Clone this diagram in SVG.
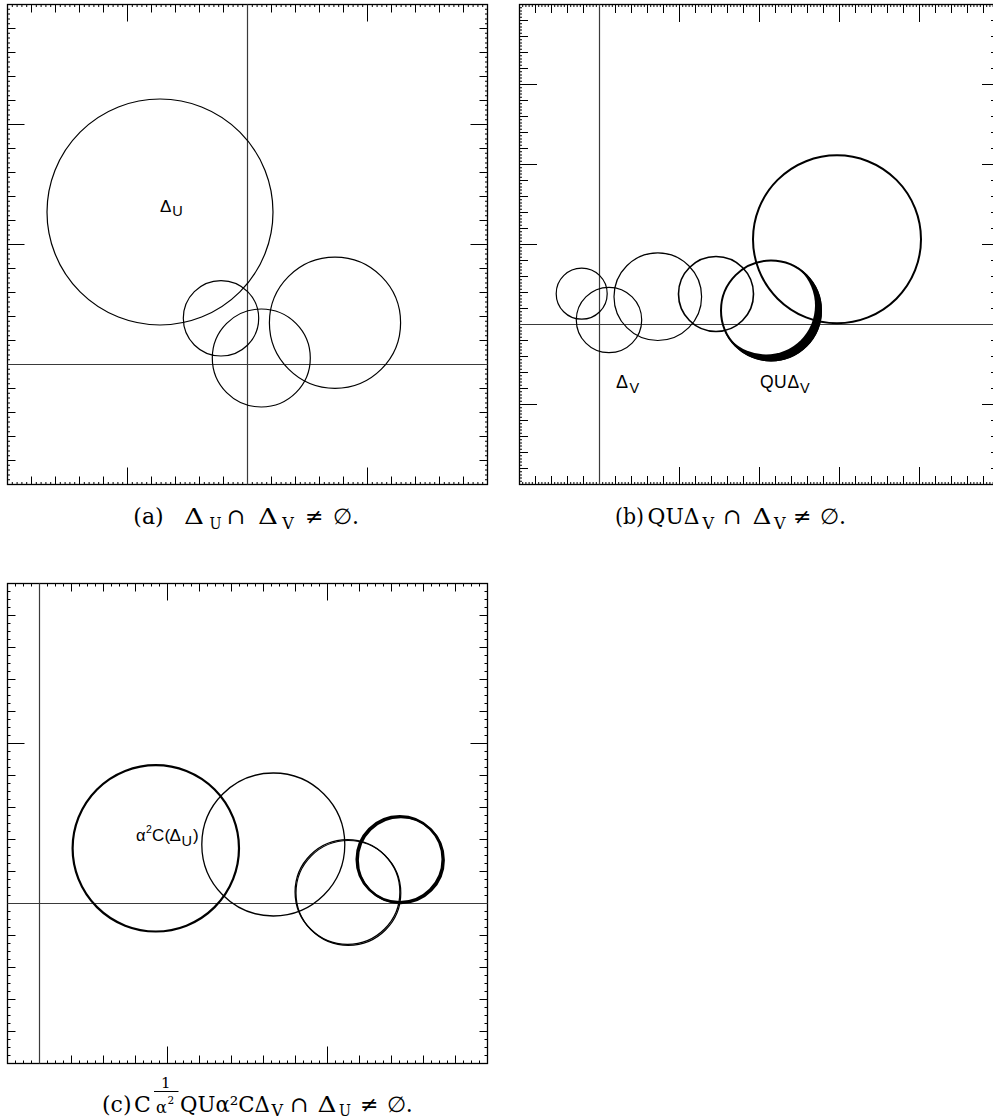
<svg xmlns="http://www.w3.org/2000/svg" width="993" height="1118" viewBox="0 0 993 1118">
<style>
.frame{fill:none;stroke:#000;stroke-width:1.3}
.tk{fill:none;stroke:#000}
.a0{stroke-width:2.5;stroke-dasharray:1 3.8}
.a1{stroke-width:8;stroke-dasharray:1 23}
.a2{stroke-width:17;stroke-dasharray:1 119}
.b0{stroke-width:2.5;stroke-dasharray:1 2.2}
.b1{stroke-width:8.5;stroke-dasharray:1 15}
.b2{stroke-width:17.5;stroke-dasharray:1 79}
.c0{stroke-width:3;stroke-dasharray:1 7}
.c1{stroke-width:8;stroke-dasharray:1 31}
.c2{stroke-width:17;stroke-dasharray:1 159}
.axis{stroke:#3a3a3a;stroke-width:1.2;fill:none}
.circ{fill:none;stroke:#000;stroke-width:1.2}
.circ2{fill:none;stroke:#000;stroke-width:2}
.lbl{font-family:"Liberation Sans",Arial,sans-serif;font-size:17px;fill:#000}
.lsub{font-size:14.5px}
.cap{font-family:"DejaVu Serif","Liberation Serif",serif;font-size:22px;fill:#000}
.csub{font-size:16px}
</style>
<defs>
<mask id="crescB" maskUnits="userSpaceOnUse" x="700" y="240" width="140" height="140">
<rect x="700" y="240" width="140" height="140" fill="#fff"/>
<circle cx="766" cy="305.5" r="49" fill="#000"/>
</mask>
</defs>

<!-- Panel (a) -->
<g id="panel-a">
<g id="a-frame">
<rect class="frame" x="7.5" y="4.5" width="480" height="480"/>
<line class="tk a0" x1="7" y1="5.75" x2="488" y2="5.75"/>
<line class="tk a1" x1="7" y1="8.5" x2="488" y2="8.5"/>
<line class="tk a2" x1="7" y1="13" x2="488" y2="13"/>
<line class="tk a0" x1="7" y1="483.25" x2="488" y2="483.25"/>
<line class="tk a1" x1="7" y1="480.5" x2="488" y2="480.5"/>
<line class="tk a2" x1="7" y1="476" x2="488" y2="476"/>
<line class="tk a0" x1="8.75" y1="4" x2="8.75" y2="485"/>
<line class="tk a1" x1="11.5" y1="4" x2="11.5" y2="485"/>
<line class="tk a2" x1="16" y1="4" x2="16" y2="485"/>
<line class="tk a0" x1="486.25" y1="4" x2="486.25" y2="485"/>
<line class="tk a1" x1="483.5" y1="4" x2="483.5" y2="485"/>
<line class="tk a2" x1="479" y1="4" x2="479" y2="485"/>
</g>
<g id="a-axes">
<line class="axis" x1="247.5" y1="4.5" x2="247.5" y2="484.5"/>
<line class="axis" x1="7.5" y1="364.5" x2="487.5" y2="364.5"/>
</g>
<g id="a-delta-u"><circle class="circ" cx="160" cy="212" r="113"/></g>
<g id="a-c2"><circle class="circ" cx="221" cy="318.3" r="37.7"/></g>
<g id="a-c3"><circle class="circ" cx="261.3" cy="358" r="49"/></g>
<g id="a-c4"><circle class="circ" cx="335" cy="322.8" r="65.6"/></g>
<g id="a-label"><text class="lbl"><tspan x="160" y="212.3">Δ</tspan><tspan class="lsub" x="172.3" y="216">U</tspan></text></g>
<g id="a-caption">
<text class="cap" x="133.3" y="523.5">(a)</text>
<text class="cap" x="184" y="523.5" textLength="20" lengthAdjust="spacingAndGlyphs">Δ</text>
<text class="cap csub" x="209.5" y="529" textLength="12" lengthAdjust="spacingAndGlyphs">U</text>
<text class="cap" x="226.7" y="523.5">∩</text>
<text class="cap" x="258" y="523.5" textLength="20" lengthAdjust="spacingAndGlyphs">Δ</text>
<text class="cap csub" x="282.3" y="528.5">V</text>
<text class="cap" x="305" y="523.5">≠</text>
<text class="cap" x="333" y="523.5">∅.</text>
</g>
</g>

<!-- Panel (b) -->
<g id="panel-b">
<g id="b-frame">
<rect class="frame" x="519.5" y="4.5" width="480" height="480"/>
<line class="tk b0" x1="519" y1="5.75" x2="1000" y2="5.75"/>
<line class="tk b1" x1="519" y1="8.75" x2="1000" y2="8.75"/>
<line class="tk b2" x1="519" y1="13.25" x2="1000" y2="13.25"/>
<line class="tk b0" x1="519" y1="483.25" x2="1000" y2="483.25"/>
<line class="tk b1" x1="519" y1="480.25" x2="1000" y2="480.25"/>
<line class="tk b2" x1="519" y1="475.75" x2="1000" y2="475.75"/>
<line class="tk b0" x1="520.75" y1="4" x2="520.75" y2="485"/>
<line class="tk b1" x1="523.75" y1="4" x2="523.75" y2="485"/>
<line class="tk b2" x1="528.25" y1="4" x2="528.25" y2="485"/>
<line class="tk b0" x1="998.25" y1="4" x2="998.25" y2="485"/>
<line class="tk b1" x1="995.25" y1="4" x2="995.25" y2="485"/>
<line class="tk b2" x1="990.75" y1="4" x2="990.75" y2="485"/>
</g>
<g id="b-axes">
<line class="axis" x1="599.5" y1="4.5" x2="599.5" y2="484.5"/>
<line class="axis" x1="519.5" y1="324.5" x2="999.5" y2="324.5"/>
</g>
<g id="b-c1"><circle class="circ" cx="581.7" cy="293.7" r="25.5"/></g>
<g id="b-delta-v"><circle class="circ" cx="609" cy="320" r="32.7"/></g>
<g id="b-c3"><circle class="circ" cx="657.8" cy="296.7" r="43.8"/></g>
<g id="b-c4"><circle class="circ" style="stroke-width:1.6" cx="716" cy="294" r="37.5"/></g>
<g id="b-qu-delta-v">
<circle cx="771" cy="310.5" r="51" fill="#000" mask="url(#crescB)"/>
<circle class="circ2" cx="771" cy="310.5" r="50"/>
</g>
<g id="b-c6"><circle class="circ2" cx="837" cy="239.3" r="84"/></g>
<g id="b-label-dv"><text class="lbl" style="font-size:18px"><tspan x="616" y="388.3">Δ</tspan><tspan class="lsub" x="629.5" y="393">V</tspan></text></g>
<g id="b-label-qudv"><text class="lbl" style="font-size:17.5px"><tspan x="760" y="388">Q</tspan><tspan x="774" y="388">U</tspan><tspan x="787.5" y="388">Δ</tspan><tspan class="lsub" x="800" y="393">V</tspan></text></g>
<g id="b-caption">
<text class="cap" x="615" y="523.5" textLength="29" lengthAdjust="spacingAndGlyphs">(b)</text>
<text class="cap" x="647.5" y="523.5" textLength="52" lengthAdjust="spacingAndGlyphs">QUΔ</text>
<text class="cap csub" x="702.5" y="528.5">V</text>
<text class="cap" x="723" y="523.5">∩</text>
<text class="cap" x="752.5" y="523.5" textLength="19" lengthAdjust="spacingAndGlyphs">Δ</text>
<text class="cap csub" x="774" y="528.5">V</text>
<text class="cap" x="793" y="523.5">≠</text>
<text class="cap" x="820" y="523.5">∅.</text>
</g>
</g>

<!-- Panel (c) -->
<g id="panel-c">
<g id="c-frame">
<rect class="frame" x="7.5" y="583.5" width="480" height="480"/>
<line class="tk c0" x1="7" y1="585" x2="488" y2="585"/>
<line class="tk c1" x1="7" y1="587.5" x2="488" y2="587.5"/>
<line class="tk c2" x1="7" y1="592" x2="488" y2="592"/>
<line class="tk c0" x1="7" y1="1062" x2="488" y2="1062"/>
<line class="tk c1" x1="7" y1="1059.5" x2="488" y2="1059.5"/>
<line class="tk c2" x1="7" y1="1055" x2="488" y2="1055"/>
<line class="tk c0" x1="9" y1="583" x2="9" y2="1064"/>
<line class="tk c1" x1="11.5" y1="583" x2="11.5" y2="1064"/>
<line class="tk c2" x1="16" y1="583" x2="16" y2="1064"/>
<line class="tk c0" x1="486" y1="583" x2="486" y2="1064"/>
<line class="tk c1" x1="483.5" y1="583" x2="483.5" y2="1064"/>
<line class="tk c2" x1="479" y1="583" x2="479" y2="1064"/>
</g>
<g id="c-axes">
<line class="axis" x1="39.5" y1="583.5" x2="39.5" y2="1063.5"/>
<line class="axis" x1="7.5" y1="903.5" x2="487.5" y2="903.5"/>
</g>
<g id="c-a2cdu"><circle class="circ2" style="stroke-width:2.2" cx="155.8" cy="848.3" r="83.2"/></g>
<g id="c-c2"><circle class="circ" style="stroke-width:1.3" cx="273.3" cy="844.5" r="71.5"/></g>
<g id="c-c3">
<circle class="circ" style="stroke-width:1.3" cx="347.5" cy="892" r="52.4"/>
<circle class="circ" style="stroke-width:1.2" cx="348.4" cy="892.9" r="52.4"/>
</g>
<g id="c-c4">
<circle class="circ" style="stroke-width:2.5" cx="399.7" cy="859.2" r="43"/>
<circle class="circ" style="stroke-width:2" cx="400.9" cy="860.2" r="43"/>
</g>
<g id="c-label"><text class="lbl"><tspan x="136" y="841" style="font-size:16.5px">α</tspan><tspan style="font-size:10.5px" x="146" y="833">2</tspan><tspan x="152" y="841">C</tspan><tspan x="164.5" y="841">(</tspan><tspan x="169.5" y="841">Δ</tspan><tspan class="lsub" x="181.5" y="846">U</tspan><tspan x="193" y="841">)</tspan></text></g>
<g id="c-caption">
<text class="cap" x="102" y="1111.5">(c)</text>
<text class="cap" x="134" y="1111.5">C</text>
<text class="cap" x="161" y="1088" style="font-size:15px">1</text>
<line x1="154" y1="1091.5" x2="178.5" y2="1091.5" stroke="#000" stroke-width="1"/>
<text class="cap" x="156" y="1113" style="font-size:16px">α</text>
<text class="cap" x="167.5" y="1104" style="font-size:10.5px">2</text>
<text class="cap" x="180" y="1111.5" textLength="90" lengthAdjust="spacingAndGlyphs">QUα²CΔ</text>
<text class="cap csub" x="271.5" y="1116">V</text>
<text class="cap" x="290" y="1111.5">∩</text>
<text class="cap" x="317.5" y="1111.5" textLength="19" lengthAdjust="spacingAndGlyphs">Δ</text>
<text class="cap csub" x="339" y="1116" textLength="12" lengthAdjust="spacingAndGlyphs">U</text>
<text class="cap" x="360" y="1111.5">≠</text>
<text class="cap" x="386.7" y="1111.5">∅.</text>
</g>
</g>
</svg>
